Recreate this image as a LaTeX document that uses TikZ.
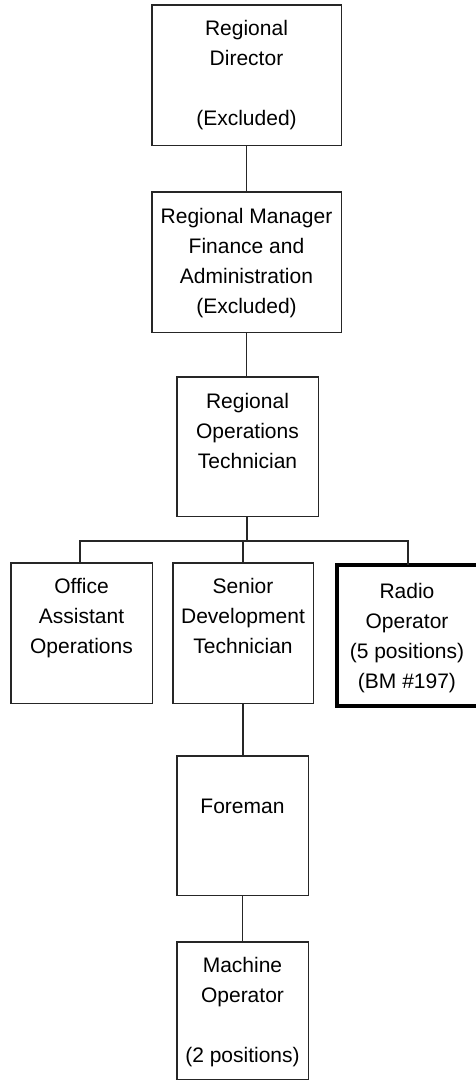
\documentclass[tikz,border=0pt]{standalone}
\usepackage{fontspec}
\setmainfont{Liberation Sans}
\begin{document}
\begin{tikzpicture}[x=1pt,y=-1pt,
  box/.style={draw=black!85, line width=1.4pt, rectangle},
  thickbox/.style={draw=black, line width=4pt, rectangle},
  holder/.style={inner sep=0pt},
  txt/.style={inner sep=0pt, anchor=base, font=\fontsize{21}{30}\selectfont},
  conn/.style={draw=black!85, line width=1.4pt}]
\useasboundingbox (0,0) rectangle (475,1080);
% boxes
\node[holder, minimum width=189pt, minimum height=140pt] (b1) at (246.5,75) {};
\node[holder, minimum width=189pt, minimum height=140pt] (b2) at (246.5,262) {};
\node[holder, minimum width=141pt, minimum height=139pt] (b3) at (247.5,446.5) {};
\node[holder, minimum width=141pt, minimum height=140pt] (b4) at (81.5,633) {};
\node[holder, minimum width=140pt, minimum height=140pt] (b5) at (243,633) {};
\node[holder, minimum width=142pt, minimum height=141pt] (b6) at (408,635.5) {};
\node[holder, minimum width=131pt, minimum height=139pt] (b7) at (242.5,825.5) {};
\node[holder, minimum width=131pt, minimum height=137pt] (b8) at (242.5,1010.5) {};
\path[box] (b1.south west) rectangle (b1.north east);
\path[box] (b2.south west) rectangle (b2.north east);
\path[box] (b3.south west) rectangle (b3.north east);
\path[box] (b4.south west) rectangle (b4.north east);
\path[box] (b5.south west) rectangle (b5.north east);
\path[thickbox] (b6.south west) rectangle (b6.north east);
\path[box] (b7.south west) rectangle (b7.north east);
\path[box] (b8.south west) rectangle (b8.north east);
% texts
\node[txt] (t1) at (246.5,35) {\begin{tabular}[t]{@{}c@{}}Regional\\Director\\ \\(Excluded)\end{tabular}};
\node[txt] (t2) at (246.5,223) {\begin{tabular}[t]{@{}c@{}}Regional Manager\\Finance and\\Administration\\(Excluded)\end{tabular}};
\node[txt] (t3) at (247.5,408) {\begin{tabular}[t]{@{}c@{}}Regional\\Operations\\Technician\end{tabular}};
\node[txt] (t4) at (81.5,593) {\begin{tabular}[t]{@{}c@{}}Office\\Assistant\\Operations\end{tabular}};
\node[txt] (t5) at (243,593) {\begin{tabular}[t]{@{}c@{}}Senior\\Development\\Technician\end{tabular}};
\node[txt] (t6) at (407,598) {\begin{tabular}[t]{@{}c@{}}Radio\\Operator\\(5 positions)\\(BM \#197)\end{tabular}};
\node[txt] (t7) at (242.5,813) {Foreman};
\node[txt] (t8) at (242.5,972) {\begin{tabular}[t]{@{}c@{}}Machine\\Operator\\ \\(2 positions)\end{tabular}};
% connectors
\coordinate (bus) at (247,541);
\draw[conn] (b1.south) -- (b1.south |- b2.north);
\draw[conn] (b2.south) -- (b2.south |- b3.north);
\draw[conn] (b3.south -| bus) -- (bus);
\draw[conn] (b4.north -| 80,0) -- (80,541) -- (408,541) -- (b6.north);
\draw[conn] (b5.north) -- (b5.north |- bus);
\draw[conn] (b5.south) -- (b5.south |- b7.north);
\draw[conn] (b7.south) -- (b7.south |- b8.north);
\end{tikzpicture}
\end{document}
